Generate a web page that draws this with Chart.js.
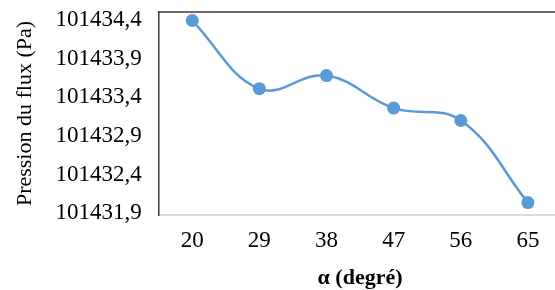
<!DOCTYPE html>
<html>
<head>
<meta charset="utf-8">
<script src="https://cdn.jsdelivr.net/npm/chart.js@4.4.0/dist/chart.umd.min.js"></script>
<style>
    html, body { margin: 0; padding: 0; background: #fff; overflow: hidden; }
    #wrap { width: 555px; height: 290px; overflow: hidden; position: relative; }
    #box { width: 568px; height: 290px; position: absolute; left: 0; top: 0; }
</style>
</head>
<body>
<div id="wrap"><div id="box"><canvas id="chart"></canvas></div></div>
<script>
// values
var angles = ["20", "29", "38", "47", "56", "65"];
var pressure = [101434.39, 101433.51, 101433.68, 101433.26, 101433.10, 101432.04];
var y_ticks = [101431.9, 101432.4, 101432.9, 101433.4, 101433.9, 101434.4];

var blue = "#5b9bd5";
var serif = "'Liberation Serif', 'Times New Roman', serif";

// top edge of the plot frame
var topFrame = {
    id: "topFrame",
    afterDraw: function (chart) {
        var a = chart.chartArea;
        var ctx = chart.ctx;
        ctx.save();
        ctx.strokeStyle = "#3a3a3a";
        ctx.lineWidth = 1.5;
        ctx.beginPath();
        ctx.moveTo(a.left, a.top);
        ctx.lineTo(a.right, a.top);
        ctx.stroke();
        ctx.restore();
    }
};

new Chart(document.getElementById("chart"), {
    type: "line",
    data: {
        labels: angles,
        datasets: [{
            data: pressure,
            borderColor: blue,
            backgroundColor: blue,
            borderWidth: 2.5,
            pointRadius: 6.5,
            pointBorderWidth: 0,
            pointBackgroundColor: blue,
            tension: 0.4,
            fill: false
        }]
    },
    options: {
        responsive: true,
        maintainAspectRatio: false,
        animation: false,
        layout: { padding: { top: 0, left: 12, right: 0, bottom: 1 } },
        plugins: {
            legend: { display: false },
            tooltip: { enabled: false }
        },
        scales: {
            x: {
                offset: true,
                grid: { display: false, drawTicks: false },
                border: { display: true, color: "#d9d9d9", width: 2 },
                ticks: {
                    color: "#000",
                    padding: 14,
                    font: { family: serif, size: 23, lineHeight: 1.0 }
                },
                title: {
                    display: true,
                    text: "α (degré)",
                    color: "#000",
                    padding: { top: 1, bottom: 0 },
                    font: { family: serif, size: 22, weight: "bold", lineHeight: 1.0 }
                }
            },
            y: {
                min: 101431.88,
                max: 101434.5,
                grid: { display: false, drawTicks: false },
                border: { display: true, color: "#3a3a3a", width: 1.5 },
                afterBuildTicks: function (axis) {
                    axis.ticks = y_ticks.map(function (v) { return { value: v }; });
                },
                afterFit: function (axis) {
                    // plot frame starts 12px from the top
                    axis.paddingTop = 12;
                    axis.paddingBottom = 0;
                },
                ticks: {
                    color: "#000",
                    padding: 17,
                    font: { family: serif, size: 23 },
                    callback: function (v) {
                        return v.toFixed(1).replace(".", ",");
                    }
                },
                title: {
                    display: true,
                    text: "Pression du flux (Pa)",
                    color: "#000",
                    padding: { top: 0, bottom: 0 },
                    font: { family: serif, size: 22 }
                }
            }
        }
    },
    plugins: [topFrame]
});
</script>
</body>
</html>
